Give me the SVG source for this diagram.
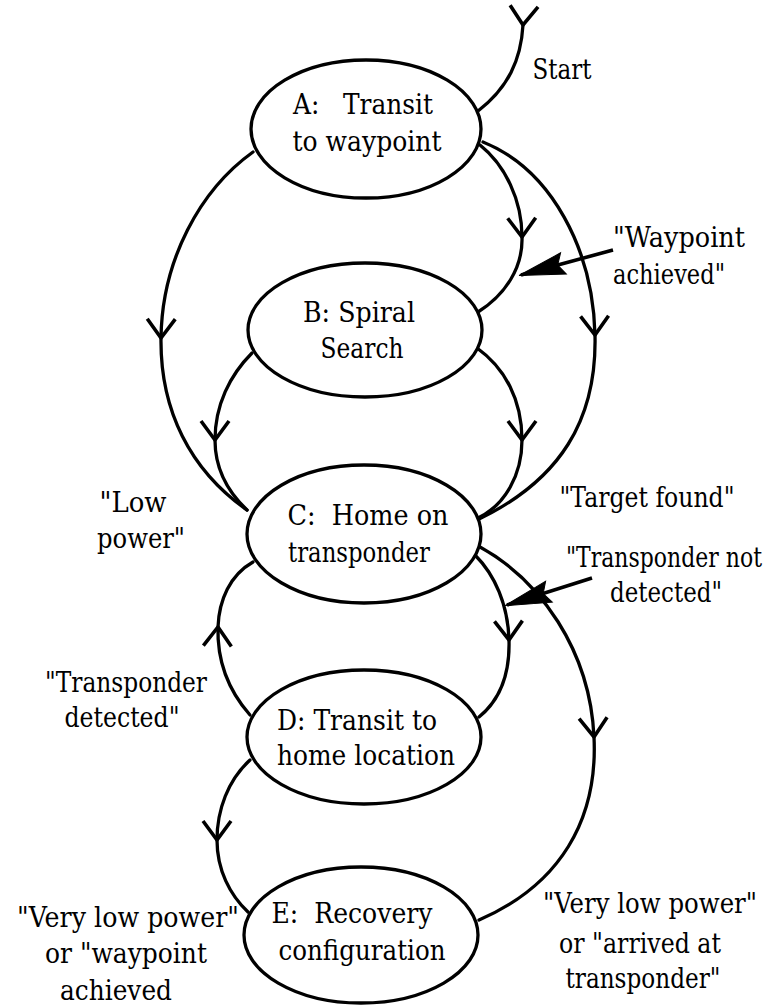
<svg xmlns="http://www.w3.org/2000/svg" width="778" height="1007" viewBox="0 0 778 1007">
  <style>
    .node { fill: #ffffff; stroke: #000000; stroke-width: 3.3; }
    .edge { fill: none; stroke: #000000; stroke-width: 3.3; stroke-linecap: round; marker-mid: url(#chev); }
    .ptr  { fill: none; stroke: #000000; stroke-width: 3.6; marker-end: url(#dart); }
    text  { font-family: 'DejaVu Serif', 'Noto Serif', serif; font-size: 27px; fill: #000000; }
    .c    { text-anchor: middle; }
    .r    { text-anchor: end; }
  </style>
  <defs>
    <!-- open chevron placed mid-way along each transition -->
    <marker id="chev" markerUnits="userSpaceOnUse" orient="auto" overflow="visible" markerWidth="1" markerHeight="1">
      <path d="M-19,-14 L0,0 L-19,14" fill="none" stroke="#000000" stroke-width="3.6" stroke-linejoin="miter"/>
    </marker>
    <!-- chevron at the start of the entry arrow -->
    <marker id="chevStart" markerUnits="userSpaceOnUse" orient="auto" overflow="visible" markerWidth="1" markerHeight="1">
      <path d="M-19,-14 L0,0 L-19,14" fill="none" stroke="#000000" stroke-width="3.6"/>
    </marker>
    <!-- solid dart for label pointers -->
    <marker id="dart" markerUnits="userSpaceOnUse" orient="auto" overflow="visible" markerWidth="1" markerHeight="1">
      <path d="M2,0 L-44,-11 L-38,0 L-44,11 Z" fill="#000000" stroke="#000000" stroke-width="1"/>
    </marker>
  </defs>

  <rect width="778" height="1007" fill="#ffffff"/>

  <!-- transitions -->
  <g id="connectors">
    <!-- entry into A -->
    <path d="M523,25 C521,60 508,88 478,111" fill="none" stroke="#000" stroke-width="3.3" marker-start="url(#chevStart)"/>
    <!-- A -> B : waypoint achieved -->
    <path class="edge" d="M480,145 C505,165 522,200 522,237 C523,268 505,295 478,312"/>
    <!-- A -> C : target found (outer right) -->
    <path class="edge" d="M483,142 C552,170 593,250 595,335 C597,420 560,480 479,519"/>
    <!-- B -> C : target found (inner right) -->
    <path class="edge" d="M477,348 C505,368 522,400 522,440 C522,475 505,505 478,518"/>
    <!-- A -> C : low power (outer left) -->
    <path class="edge" d="M253,152 C200,190 162,260 161,338 C160,410 190,470 247,510"/>
    <!-- B -> C : low power (inner left) -->
    <path class="edge" d="M252,353 C230,375 215,405 215,440 C215,470 228,492 247,510"/>
    <!-- D -> C : transponder detected -->
    <path class="edge" d="M250,715 C228,690 217,660 218,627 C219,600 230,575 253,562"/>
    <!-- C -> D : transponder not detected -->
    <path class="edge" d="M475,555 C495,575 508,605 509,640 C510,675 500,700 479,717"/>
    <!-- C -> E : very low power or arrived at transponder -->
    <path class="edge" d="M480,547 C540,580 590,650 594,737 C598,820 560,885 479,920"/>
    <!-- D -> E : very low power or waypoint achieved -->
    <path class="edge" d="M250,760 C228,780 217,810 217,840 C217,870 230,895 248,912"/>

    <!-- label pointers -->
    <path class="ptr" d="M613,250 L521,275"/>
    <path class="ptr" d="M592,578 L507,605"/>
  </g>

  <!-- states -->
  <g id="node-A">
    <ellipse class="node" cx="366" cy="129" rx="115" ry="69"/>
    <text class="c" x="363" y="114" textLength="140" lengthAdjust="spacingAndGlyphs" xml:space="preserve">A:   Transit</text>
    <text class="c" x="367" y="151" textLength="149" lengthAdjust="spacingAndGlyphs">to waypoint</text>
  </g>
  <g id="node-B">
    <ellipse class="node" cx="365" cy="330" rx="117" ry="67"/>
    <text class="c" x="359" y="322" textLength="112" lengthAdjust="spacingAndGlyphs">B: Spiral</text>
    <text class="c" x="362" y="358" textLength="83" lengthAdjust="spacingAndGlyphs">Search</text>
  </g>
  <g id="node-C">
    <ellipse class="node" cx="364" cy="534" rx="117" ry="69"/>
    <text class="c" x="368" y="525" textLength="161" lengthAdjust="spacingAndGlyphs" xml:space="preserve">C:  Home on</text>
    <text class="c" x="359" y="562" textLength="142" lengthAdjust="spacingAndGlyphs">transponder</text>
  </g>
  <g id="node-D">
    <ellipse class="node" cx="364" cy="737" rx="117" ry="67"/>
    <text class="c" x="357" y="730" textLength="160" lengthAdjust="spacingAndGlyphs">D: Transit to</text>
    <text class="c" x="366" y="765" textLength="178" lengthAdjust="spacingAndGlyphs">home location</text>
  </g>
  <g id="node-E">
    <ellipse class="node" cx="361" cy="935" rx="117" ry="68"/>
    <text class="c" x="352" y="923" textLength="161" lengthAdjust="spacingAndGlyphs" xml:space="preserve">E:  Recovery</text>
    <text class="c" x="362" y="960" textLength="167" lengthAdjust="spacingAndGlyphs">configuration</text>
  </g>

  <!-- transition labels -->
  <g id="edge-labels">
    <text class="c" x="562" y="79" textLength="59" lengthAdjust="spacingAndGlyphs">Start</text>
    <text x="613" y="247" textLength="132" lengthAdjust="spacingAndGlyphs">"Waypoint</text>
    <text x="613" y="284" textLength="112" lengthAdjust="spacingAndGlyphs">achieved"</text>
    <text class="c" x="647" y="507" textLength="175" lengthAdjust="spacingAndGlyphs">"Target found"</text>
    <text class="c" x="133" y="512" textLength="67" lengthAdjust="spacingAndGlyphs">"Low</text>
    <text class="c" x="141" y="548" textLength="88" lengthAdjust="spacingAndGlyphs">power"</text>
    <text class="r" x="762" y="567" textLength="196" lengthAdjust="spacingAndGlyphs">"Transponder not</text>
    <text class="c" x="666" y="602" textLength="112" lengthAdjust="spacingAndGlyphs">detected"</text>
    <text class="c" x="126" y="692" textLength="162" lengthAdjust="spacingAndGlyphs">"Transponder</text>
    <text class="c" x="122" y="727" textLength="115" lengthAdjust="spacingAndGlyphs">detected"</text>
    <text class="c" x="128" y="927" textLength="222" lengthAdjust="spacingAndGlyphs">"Very low power"</text>
    <text class="c" x="126" y="963" textLength="162" lengthAdjust="spacingAndGlyphs">or "waypoint</text>
    <text class="c" x="116" y="1000" textLength="112" lengthAdjust="spacingAndGlyphs">achieved</text>
    <text class="r" x="757" y="913" textLength="214" lengthAdjust="spacingAndGlyphs">"Very low power"</text>
    <text class="c" x="640" y="953" textLength="162" lengthAdjust="spacingAndGlyphs">or "arrived at</text>
    <text class="c" x="643" y="988" textLength="155" lengthAdjust="spacingAndGlyphs">transponder"</text>
  </g>
</svg>
